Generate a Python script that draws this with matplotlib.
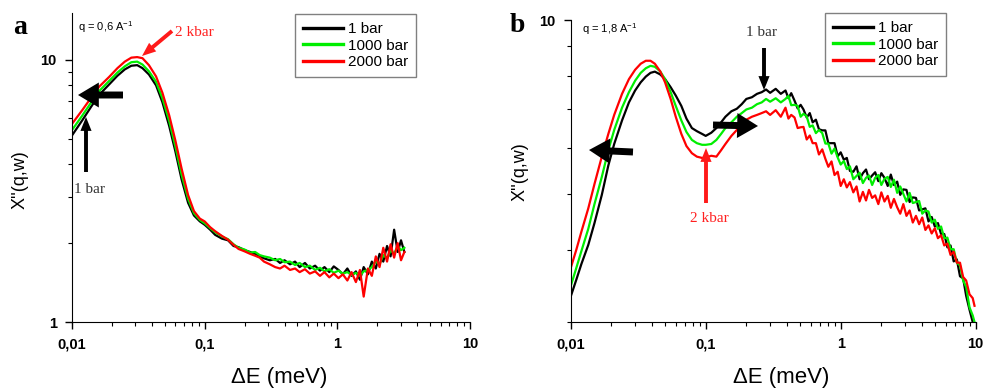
import matplotlib
matplotlib.use('Agg')
import matplotlib.pyplot as plt
from matplotlib.ticker import FixedLocator, LogLocator, NullFormatter

# panel a : q = 0,6 A-1
ea = [0.010, 0.012, 0.014, 0.016, 0.019, 0.022, 0.025, 0.028, 0.031, 0.034,
      0.038, 0.043, 0.048, 0.054, 0.060, 0.067, 0.075, 0.083, 0.092, 0.10,
      0.11, 0.12, 0.135, 0.15, 0.165, 0.18, 0.20, 0.22, 0.24, 0.26,
      0.28, 0.31, 0.34, 0.37, 0.40, 0.44, 0.48, 0.52, 0.57, 0.62,
      0.68, 0.74, 0.80, 0.87, 0.94, 1.02, 1.10, 1.19, 1.28, 1.38,
      1.48, 1.58, 1.70, 1.82, 1.95, 2.08, 2.22, 2.37, 2.52, 2.68,
      2.85, 3.02, 3.20]
a_1bar = [5.15, 5.90, 6.65, 7.35, 8.05, 8.70, 9.20, 9.50, 9.55, 9.30,
          8.80, 8.00, 6.90, 5.60, 4.50, 3.50, 2.85, 2.55, 2.42, 2.35,
          2.25, 2.15, 2.08, 2.05, 1.95, 1.93, 1.88, 1.85, 1.82, 1.78,
          1.75, 1.72, 1.74, 1.68, 1.72, 1.66, 1.70, 1.62, 1.68, 1.60,
          1.64, 1.57, 1.62, 1.55, 1.63, 1.58, 1.52, 1.60, 1.50, 1.56,
          1.45, 1.62, 1.52, 1.70, 1.60, 1.82, 1.70, 1.95, 1.78, 2.25,
          1.85, 2.05, 1.85]
a_1000bar = [5.40, 6.15, 6.90, 7.60, 8.30, 8.95, 9.45, 9.80, 9.85, 9.60,
             9.05, 8.25, 7.15, 5.85, 4.70, 3.65, 2.95, 2.60, 2.45, 2.38,
             2.28, 2.20, 2.12, 2.07, 1.98, 1.92, 1.89, 1.84, 1.85, 1.80,
             1.78, 1.76, 1.72, 1.74, 1.69, 1.70, 1.65, 1.68, 1.62, 1.64,
             1.58, 1.61, 1.56, 1.59, 1.54, 1.57, 1.53, 1.55, 1.51, 1.54,
             1.50, 1.56, 1.58, 1.62, 1.70, 1.66, 1.80, 1.75, 1.88, 1.82,
             1.95, 1.88, 1.92]
a_2000bar = [5.70, 6.45, 7.20, 7.90, 8.60, 9.30, 9.85, 10.20, 10.25, 10.15,
             9.55, 8.65, 7.50, 6.15, 4.95, 3.85, 3.05, 2.65, 2.48, 2.42,
             2.30, 2.22, 2.13, 2.06, 1.97, 1.90, 1.86, 1.82, 1.79, 1.76,
             1.70, 1.66, 1.62, 1.60, 1.64, 1.58, 1.60, 1.55, 1.59, 1.53,
             1.56, 1.50, 1.55, 1.48, 1.53, 1.47, 1.52, 1.44, 1.55, 1.42,
             1.58, 1.25, 1.60, 1.50, 1.78, 1.62, 1.92, 1.70, 1.98, 1.76,
             2.00, 1.72, 1.85]

# panel b : q = 1,8 A-1
eb = [0.010, 0.011, 0.012, 0.0135, 0.015, 0.017, 0.019, 0.021, 0.024, 0.027,
      0.030, 0.033, 0.036, 0.039, 0.042, 0.046, 0.050, 0.055, 0.060, 0.066,
      0.072, 0.079, 0.086, 0.094, 0.10, 0.11, 0.12, 0.13, 0.14, 0.155,
      0.17, 0.185, 0.20, 0.22, 0.24, 0.26, 0.28, 0.30, 0.33, 0.36,
      0.39, 0.41, 0.43, 0.455, 0.48, 0.505, 0.53, 0.56, 0.59, 0.62,
      0.655, 0.69, 0.73, 0.77, 0.81, 0.855, 0.90, 0.95, 1.0, 1.055,
      1.11, 1.17, 1.24, 1.31, 1.38, 1.46, 1.54, 1.62, 1.71, 1.80,
      1.90, 2.0, 2.11, 2.23, 2.35, 2.48, 2.62, 2.76, 2.91, 3.07,
      3.24, 3.42, 3.61, 3.81, 4.02, 4.24, 4.47, 4.72, 4.98, 5.25,
      5.54, 5.85, 6.17, 6.51, 6.87, 7.25, 7.65, 8.07, 8.5, 9.0,
      9.5, 9.8]
b_1bar = [3.32, 3.55, 3.78, 4.08, 4.45, 4.98, 5.60, 6.10, 6.70, 7.20,
          7.55, 7.80, 7.98, 8.10, 8.14, 8.05, 7.90, 7.65, 7.40, 7.10,
          6.75, 6.50, 6.42, 6.35, 6.30, 6.38, 6.50, 6.65, 6.80, 6.95,
          7.02, 7.15, 7.30, 7.35, 7.45, 7.50, 7.58, 7.48, 7.60, 7.45,
          7.55, 7.32, 7.47, 7.25, 7.03, 7.13, 7.00, 6.78, 6.90, 6.65,
          6.72, 6.47, 6.44, 6.44, 6.12, 6.12, 6.12, 5.81, 5.90, 5.73,
          5.77, 5.48, 5.46, 5.58, 5.30, 5.43, 5.51, 5.30, 5.38, 5.45,
          5.26, 5.43, 5.33, 5.16, 5.40, 5.18, 5.25, 4.98, 5.09, 5.08,
          4.84, 4.93, 4.92, 4.68, 4.70, 4.72, 4.48, 4.56, 4.39, 4.45,
          4.26, 4.26, 4.04, 4.07, 3.82, 3.85, 3.60, 3.57, 3.33, 3.15,
          3.00, 2.95]
b_1000bar = [3.46, 3.72, 3.98, 4.35, 4.80, 5.35, 5.95, 6.45, 7.05, 7.50,
             7.85, 8.10, 8.25, 8.33, 8.30, 8.15, 7.90, 7.50, 7.10, 6.70,
             6.40, 6.20, 6.12, 6.08, 6.08, 6.10, 6.20, 6.35, 6.50, 6.65,
             6.80, 6.90, 7.00, 7.05, 7.15, 7.20, 7.30, 7.22, 7.32, 7.20,
             7.30, 7.39, 7.12, 7.13, 7.10, 6.80, 6.88, 6.81, 6.53, 6.57,
             6.37, 6.45, 6.37, 6.11, 6.11, 5.87, 5.99, 5.78, 5.62, 5.70,
             5.52, 5.58, 5.30, 5.37, 5.44, 5.22, 5.33, 5.38, 5.18, 5.33,
             5.39, 5.18, 5.31, 5.35, 5.14, 5.29, 5.02, 5.15, 5.00, 4.85,
             5.02, 4.82, 4.84, 4.86, 4.62, 4.68, 4.66, 4.46, 4.51, 4.35,
             4.39, 4.19, 4.20, 4.01, 4.01, 3.80, 3.76, 3.54, 3.45, 3.18,
             3.08, 3.00]
b_2000bar = [3.72, 4.00, 4.30, 4.72, 5.20, 5.80, 6.35, 6.85, 7.45, 7.90,
             8.20, 8.40, 8.50, 8.50, 8.40, 8.15, 7.80, 7.30, 6.80, 6.35,
             6.05, 5.88, 5.80, 5.77, 5.78, 5.82, 5.80, 5.95, 6.10, 6.30,
             6.45, 6.60, 6.72, 6.80, 6.85, 6.90, 6.95, 6.85, 6.98, 6.80,
             7.05, 6.75, 6.85, 6.78, 6.50, 6.52, 6.53, 6.21, 6.31, 6.12,
             6.12, 5.85, 5.97, 5.75, 5.57, 5.69, 5.39, 5.46, 5.16, 5.30,
             5.13, 5.24, 5.03, 5.15, 4.85, 5.04, 4.87, 5.08, 4.92, 4.97,
             4.80, 5.03, 4.85, 4.96, 4.73, 4.90, 4.74, 4.62, 4.80, 4.58,
             4.68, 4.46, 4.58, 4.43, 4.55, 4.33, 4.41, 4.27, 4.36, 4.19,
             4.24, 4.07, 4.10, 3.92, 3.97, 3.80, 3.80, 3.59, 3.54, 3.35,
             3.30, 3.20]

labels = ['1 bar', '1000 bar', '2000 bar']
colors = ['#000000', '#00ee00', '#ff0000']
xtick_vals = [0.01, 0.1, 1, 10]
xtick_text = ['0,01', '0,1', '1', '10']

W, H = 989, 390
SANS = 'Liberation Sans'
SERIF = 'Liberation Serif'


def px(x, y):
    # pixel position from top-left -> figure fraction
    return (x / W, 1 - y / H)


fig = plt.figure(figsize=(W / 100, H / 100), dpi=100)
axa = fig.add_axes([72 / W, 1 - 322 / H, 398 / W, 309 / H])
axb = fig.add_axes([570.7 / W, 1 - 322 / H, 405 / W, 302 / H])

for ax, e, series in [(axa, ea, [a_1bar, a_1000bar, a_2000bar]),
                      (axb, eb, [b_1bar, b_1000bar, b_2000bar])]:
    for s, c, lab in zip(series, colors, labels):
        ax.plot(e, s, color=c, lw=1.6, label=lab)
    ax.set_xscale('log')
    ax.set_yscale('log')
    ax.set_xlim(0.01, 10)
    ax.spines['top'].set_visible(False)
    ax.spines['right'].set_visible(False)
    ax.xaxis.set_major_locator(FixedLocator(xtick_vals))
    ax.set_xticklabels(xtick_text)
    ax.xaxis.set_minor_locator(LogLocator(base=10, subs=range(2, 10), numticks=20))
    ax.xaxis.set_minor_formatter(NullFormatter())
    ax.yaxis.set_minor_locator(LogLocator(base=10, subs=range(2, 10), numticks=20))
    ax.yaxis.set_minor_formatter(NullFormatter())
    ax.tick_params(which='major', direction='out', length=5, width=1, pad=6)
    ax.tick_params(which='minor', direction='out', length=3, width=0.8)

axa.set_ylim(1, 15.1)
axa.yaxis.set_major_locator(FixedLocator([1, 10]))
axa.set_yticklabels(['1', '10'])
axb.set_ylim(3, 10)
axb.yaxis.set_major_locator(FixedLocator([10]))
axb.set_yticklabels(['10'])
for ax in (axa, axb):
    for t in ax.get_xticklabels() + ax.get_yticklabels():
        t.set_fontfamily(SANS)
        t.set_fontweight('bold')
        t.set_fontsize(10.5)

# legends
for ax, corner in [(axa, (295, 14)), (axb, (825, 13))]:
    leg = ax.legend(loc='upper left', bbox_to_anchor=px(*corner),
                    bbox_transform=fig.transFigure, borderaxespad=0,
                    fancybox=False, edgecolor='#808080', framealpha=1,
                    handlelength=2.6, handletextpad=0.3, labelspacing=0.15,
                    borderpad=0.55, prop={'family': SANS, 'size': 11})
    leg.get_frame().set_linewidth(1.0)
    for ln in leg.get_lines():
        ln.set_linewidth(2.4)

# panel letters, labels
fig.text(*px(13, 27), 'a', family=SERIF, weight='bold', size=20, va='center', ha='left')
fig.text(*px(510, 25), 'b', family=SERIF, weight='bold', size=20, va='center', ha='left')
fig.text(*px(78, 27), r'q = 0,6 A$^{\mathregular{-1}}$', family=SANS, size=8, va='center')
fig.text(*px(582, 29), r'q = 1,8 A$^{\mathregular{-1}}$', family=SANS, size=8, va='center')
fig.text(*px(279, 377), 'ΔE (meV)', family=SANS, size=16, ha='center', va='center')
fig.text(*px(781, 377), 'ΔE (meV)', family=SANS, size=16, ha='center', va='center')
fig.text(*px(20, 180), "X''(q,w)", family=SANS, size=13, rotation=90, ha='center', va='center')
fig.text(*px(520, 172), "X''(q,w)", family=SANS, size=13, rotation=90, ha='center', va='center')


def arrow(tail, head, color='k', big=False):
    if big:
        props = dict(facecolor=color, edgecolor='none', width=5, headwidth=18,
                     headlength=15, shrink=0)
    else:
        props = dict(facecolor=color, edgecolor='none', width=2.8, headwidth=8,
                     headlength=10, shrink=0)
    fig.add_artist(plt.Annotation('', xy=px(*head), xytext=px(*tail),
                                  xycoords='figure fraction', textcoords='figure fraction',
                                  arrowprops=props))


# panel a arrows
arrow((123, 95), (78, 95), big=True)
arrow((86, 172), (86, 117))
fig.text(*px(90, 189), '1 bar', family=SERIF, size=11, color='#333333', ha='center', va='center')
arrow((172, 31), (142, 56), color='#ff1a1a')
fig.text(*px(194, 33), '2 kbar', family=SERIF, size=11, color='#ff2020', ha='center', va='center')

# panel b arrows
arrow((633, 152), (589, 150), big=True)
arrow((713, 125), (758, 126), big=True)
arrow((764, 48), (764, 90))
fig.text(*px(761, 33), '1 bar', family=SERIF, size=11, color='#333333', ha='center', va='center')
arrow((706, 203), (706, 148), color='#ff1a1a')
fig.text(*px(709, 219), '2 kbar', family=SERIF, size=11, color='#ff2020', ha='center', va='center')

fig.savefig('out.png', dpi=100)
